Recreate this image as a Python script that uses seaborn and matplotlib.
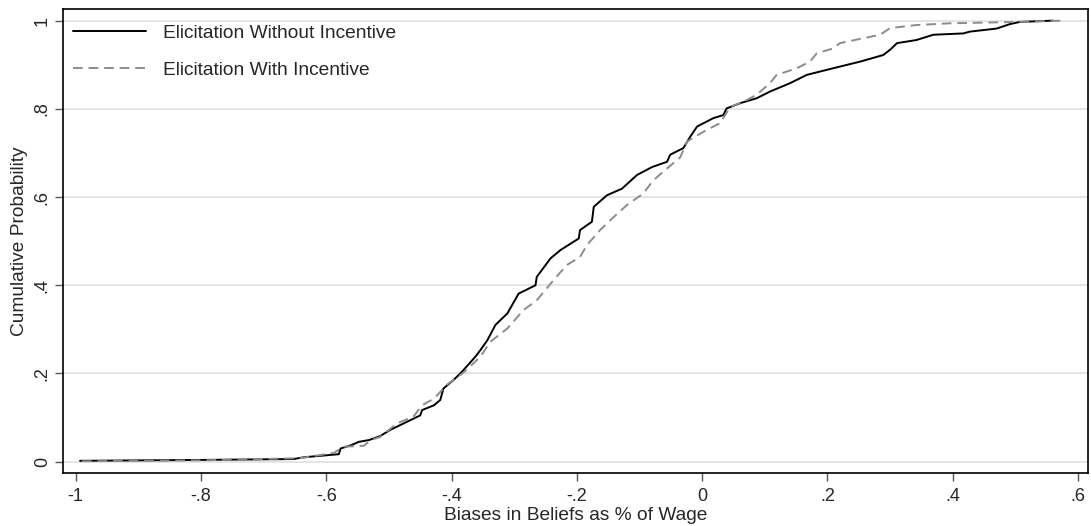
#!/usr/bin/env python3
"""Empirical CDFs of belief biases, with and without incentivised elicitation."""
import pandas as pd
import matplotlib
matplotlib.use('Agg')
import matplotlib.pyplot as plt
import seaborn as sns

# points (bias, cumulative probability)
no_incentive_x = [-0.993, -0.80, -0.652, -0.636, -0.580, -0.577, -0.561, -0.548, -0.532, -0.514,
                  -0.498, -0.482, -0.466, -0.450, -0.447, -0.428, -0.418, -0.413, -0.397, -0.384,
                  -0.362, -0.354, -0.343, -0.330, -0.311, -0.293, -0.266, -0.264, -0.242, -0.226,
                  -0.197, -0.195, -0.176, -0.173, -0.152, -0.128, -0.104, -0.080, -0.056, -0.051,
                  -0.030, -0.019, -0.008, 0.018, 0.034, 0.039, 0.061, 0.087, 0.108, 0.140,
                  0.167, 0.209, 0.252, 0.289, 0.300, 0.311, 0.342, 0.369, 0.417, 0.427,
                  0.470, 0.491, 0.507, 0.560]
no_incentive_p = [0.002, 0.004, 0.006, 0.010, 0.017, 0.030, 0.037, 0.045, 0.049, 0.058,
                  0.072, 0.083, 0.094, 0.105, 0.117, 0.128, 0.140, 0.166, 0.185, 0.203,
                  0.238, 0.253, 0.275, 0.310, 0.336, 0.381, 0.400, 0.419, 0.461, 0.480,
                  0.506, 0.525, 0.544, 0.578, 0.604, 0.619, 0.650, 0.668, 0.680, 0.696,
                  0.711, 0.737, 0.760, 0.779, 0.786, 0.801, 0.813, 0.824, 0.839, 0.858,
                  0.877, 0.892, 0.907, 0.922, 0.934, 0.949, 0.956, 0.968, 0.971, 0.975,
                  0.982, 0.992, 0.997, 1.000]

incentive_x = [-0.990, -0.80, -0.641, -0.588, -0.572, -0.540, -0.529, -0.514, -0.487, -0.461,
               -0.447, -0.428, -0.407, -0.381, -0.354, -0.338, -0.311, -0.285, -0.264, -0.248,
               -0.237, -0.216, -0.195, -0.184, -0.163, -0.141, -0.120, -0.094, -0.078, -0.056,
               -0.035, -0.024, 0.002, 0.029, 0.045, 0.066, 0.087, 0.108, 0.119, 0.151,
               0.172, 0.183, 0.209, 0.220, 0.257, 0.284, 0.300, 0.342, 0.396, 0.502,
               0.576]
incentive_p = [0.001, 0.003, 0.008, 0.020, 0.034, 0.036, 0.049, 0.056, 0.087, 0.102,
               0.128, 0.143, 0.175, 0.202, 0.238, 0.272, 0.302, 0.344, 0.366, 0.393,
               0.412, 0.446, 0.464, 0.491, 0.525, 0.555, 0.582, 0.608, 0.638, 0.665,
               0.690, 0.726, 0.748, 0.768, 0.805, 0.816, 0.832, 0.858, 0.877, 0.892,
               0.907, 0.926, 0.937, 0.949, 0.960, 0.968, 0.983, 0.990, 0.994, 0.997,
               1.000]

x_ticks = [-1, -0.8, -0.6, -0.4, -0.2, 0, 0.2, 0.4, 0.6]
x_labels = ['-1', '-.8', '-.6', '-.4', '-.2', '0', '.2', '.4', '.6']
y_ticks = [0, 0.2, 0.4, 0.6, 0.8, 1]
y_labels = ['0', '.2', '.4', '.6', '.8', '1']

no_inc = pd.DataFrame({'bias': no_incentive_x, 'cdf': no_incentive_p})
inc = pd.DataFrame({'bias': incentive_x, 'cdf': incentive_p})

sns.set_style('white')
plt.rcParams['font.family'] = ['Liberation Sans', 'DejaVu Sans']
FS = 13.8

fig = plt.figure(figsize=(10.91, 5.26), dpi=100)
ax = fig.add_axes([0.058, 0.1008, 0.9393, 0.8822])

sns.lineplot(data=no_inc, x='bias', y='cdf', ax=ax, sort=False, color='black',
             linewidth=1.4, label='Elicitation Without Incentive')
sns.lineplot(data=inc, x='bias', y='cdf', ax=ax, sort=False, color='#8c8c8c',
             linewidth=1.4, label='Elicitation With Incentive')
ax.lines[1].set_dashes((5, 3))

ax.set_xlim(-1.0198, 0.616)
ax.set_ylim(-0.0256, 1.0265)
ax.set_xticks(x_ticks)
ax.set_xticklabels(x_labels)
ax.set_yticks(y_ticks)
ax.set_yticklabels(y_labels, rotation=90, va='center')
ax.tick_params(axis='both', direction='out', length=6, width=1, color='#555555',
               labelsize=13, left=True, bottom=True)
ax.tick_params(axis='x', pad=4.5)
ax.tick_params(axis='y', pad=3)
ax.yaxis.grid(True, color='#e0e0e0', linewidth=1.2)
ax.set_axisbelow(True)
for sp in ax.spines.values():
    sp.set_color('black')
    sp.set_linewidth(1.2)

ax.set_xlabel('Biases in Beliefs as % of Wage', fontsize=FS, labelpad=2)
ax.set_ylabel('Cumulative Probability', fontsize=FS, labelpad=4)

leg = ax.legend(loc='upper left', frameon=False, fontsize=FS, handlelength=3.8,
                handletextpad=0.9, labelspacing=1.0, borderaxespad=0.1,
                bbox_to_anchor=(0.0, 0.987))
leg.get_lines()[1].set_dashes((5, 3))

plt.savefig('out.png', dpi=100)
